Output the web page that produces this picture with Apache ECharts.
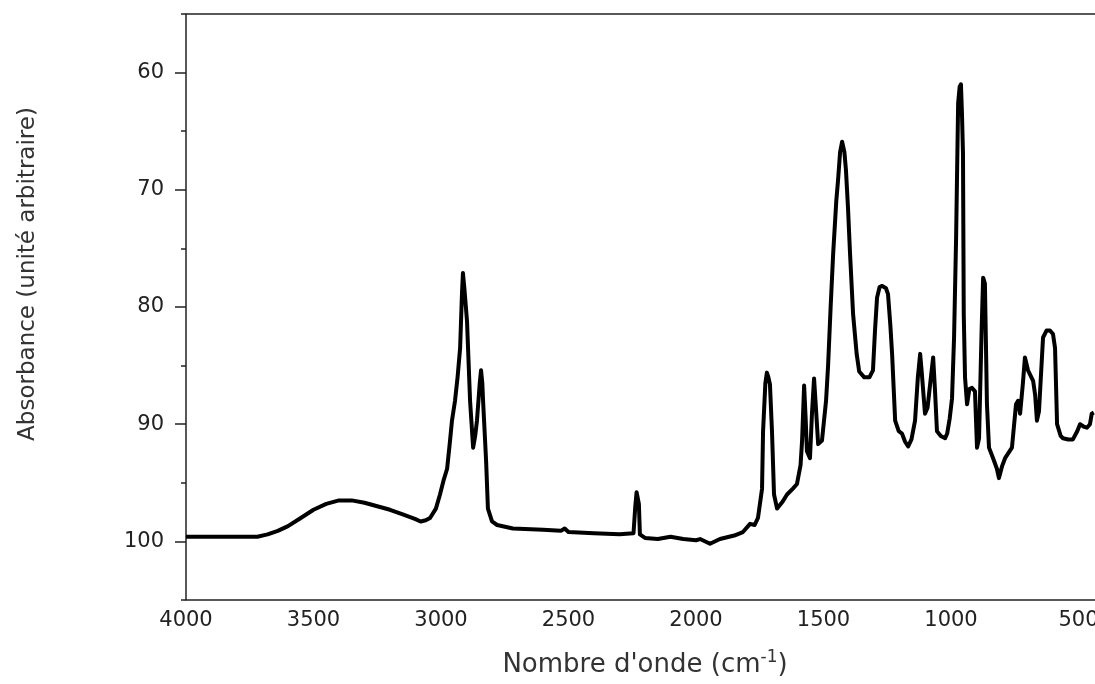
<!DOCTYPE html>
<html>
<head>
<meta charset="utf-8">
<script src="https://cdn.jsdelivr.net/npm/echarts@6/dist/echarts.min.js"></script>
<style>
  html, body { margin: 0; padding: 0; background: #fff; }
  #chart { width: 1095px; height: 684px; }
</style>
</head>
<body>
<div id="chart"></div>
<script>
// nombre d'onde (cm-1), du plus grand au plus petit
const wavenumbers = [
  4000, 3900, 3800, 3720, 3680, 3640, 3600, 3550, 3500, 3450, 3400, 3350, 3300, 3250, 3200, 3150,
  3100, 3080, 3060, 3043, 3020, 3004, 2990, 2976, 2965, 2957, 2945, 2935, 2925, 2918, 2914, 2908,
  2898, 2886, 2874, 2866, 2859, 2848, 2843, 2838, 2835, 2823, 2816, 2800, 2780, 2718, 2600, 2530,
  2515, 2500, 2400, 2300, 2245, 2238, 2233, 2229, 2224, 2220, 2200, 2150, 2100, 2050, 2000, 1984,
  1945, 1906, 1850, 1816, 1788, 1770, 1757, 1741, 1737, 1728, 1722, 1716, 1710, 1702, 1694, 1682,
  1660, 1643, 1620, 1604, 1590, 1584, 1576, 1570, 1565, 1553, 1545, 1537, 1530, 1521, 1506, 1490,
  1482, 1472, 1462, 1450, 1443, 1435, 1427, 1418, 1412, 1404, 1396, 1384, 1370, 1360, 1340, 1320,
  1306, 1298, 1290, 1280, 1270, 1255, 1247, 1238, 1231, 1219, 1205, 1192, 1180, 1168, 1155, 1141,
  1130, 1121, 1115, 1102, 1092, 1086, 1070, 1063, 1055, 1040, 1023, 1015, 1005, 996, 988, 980,
  972, 966, 961, 957, 953, 950, 945, 937, 928, 918, 906, 898, 890, 880, 874, 867,
  859, 851, 835, 820, 812, 800, 788, 761, 745, 737, 729, 718, 710, 698, 678, 670,
  663, 655, 639, 625, 612, 600, 592, 584, 570, 561, 540, 522, 505, 494, 480, 467,
  455, 448, 440
];

// absorbance (unité arbitraire), axe inversé
const absorbance = [
  99.6, 99.6, 99.6, 99.6, 99.4, 99.1, 98.7, 98.0, 97.3, 96.8, 96.5, 96.5, 96.7, 97.0, 97.3, 97.7,
  98.1, 98.3, 98.2, 98.0, 97.2, 96.0, 94.8, 93.8, 91.5, 89.7, 88.0, 86.0, 83.5, 79.0, 77.1, 78.5,
  81.2, 88.0, 92.0, 91.0, 89.7, 86.5, 85.4, 86.5, 88.0, 93.2, 97.2, 98.3, 98.6, 98.9, 99.0, 99.1,
  98.9, 99.2, 99.3, 99.4, 99.3, 97.0, 95.8, 95.8, 96.8, 99.4, 99.7, 99.8, 99.6, 99.8, 99.9, 99.8,
  100.2, 99.8, 99.5, 99.2, 98.5, 98.6, 98.0, 95.5, 90.6, 86.5, 85.6, 86.0, 86.6, 90.6, 96.0, 97.2,
  96.6, 96.0, 95.5, 95.1, 93.5, 91.4, 86.7, 89.5, 92.3, 92.9, 89.0, 86.1, 88.5, 91.7, 91.4, 88.0,
  85.0, 80.0, 75.4, 71.0, 69.2, 66.8, 65.9, 66.8, 68.3, 71.5, 75.4, 80.6, 84.0, 85.5, 86.0, 86.0,
  85.4, 82.0, 79.2, 78.3, 78.2, 78.4, 78.9, 81.5, 84.0, 89.7, 90.6, 90.8, 91.5, 91.9, 91.3, 89.7,
  86.0, 84.0, 85.5, 89.1, 88.6, 87.4, 84.3, 87.0, 90.6, 91.0, 91.2, 90.8, 89.5, 87.8, 82.6, 74.1,
  62.6, 61.2, 61.0, 63.5, 66.9, 80.6, 86.0, 88.3, 87.0, 86.9, 87.2, 92.0, 91.2, 82.0, 77.5, 78.0,
  88.3, 92.0, 92.9, 93.8, 94.6, 93.6, 92.9, 92.0, 88.3, 88.0, 89.1, 86.5, 84.3, 85.4, 86.3, 87.5,
  89.7, 88.9, 82.6, 82.0, 82.0, 82.3, 83.5, 90.0, 91.0, 91.2, 91.3, 91.3, 90.6, 90.0, 90.2, 90.3,
  90.0, 89.1, 89.0
];

const xTickLabels = [4000, 3500, 3000, 2500, 2000, 1500, 1000, 500];
const yMajorTicks = [60, 70, 80, 90, 100];
const yMinorTicks = [55, 65, 75, 85, 95, 105];

const chart = echarts.init(document.getElementById('chart'));

const points = wavenumbers.map((w, i) => [w, absorbance[i]]);
const labelFont = { fontFamily: 'DejaVu Sans', fontSize: 21, color: '#222' };

const option = {
  animation: false,
  backgroundColor: '#fff',
  grid: {
    left: 186, right: -9, top: 14, bottom: 84,
    outerBoundsMode: 'none',
    containLabel: false,
    show: true, borderColor: '#222', borderWidth: 1.5
  },
  xAxis: {
    type: 'value',
    inverse: true,
    min: 400,
    max: 4000,
    axisLine: { show: false },
    axisTick: { show: false },
    splitLine: { show: false },
    axisLabel: { ...labelFont, margin: 10, customValues: xTickLabels, formatter: (v) => String(v) },
    name: "Nombre d'onde (cm{sup|-1})",
    nameLocation: 'middle',
    nameGap: 49,
    nameTextStyle: {
      fontFamily: 'DejaVu Sans', fontSize: 26, color: '#333',
      rich: { sup: { fontFamily: 'DejaVu Sans', fontSize: 17, color: '#333', padding: [0, 0, 15, 0] } }
    }
  },
  yAxis: [
    {
      type: 'value',
      inverse: true,
      min: 55,
      max: 105,
      axisLine: { show: false },
      axisTick: { show: true, length: 5, customValues: yMinorTicks, lineStyle: { color: '#222', width: 1.5 } },
      axisLabel: { show: false },
      splitLine: { show: false }
    },
    {
      type: 'value',
      inverse: true,
      min: 55,
      max: 105,
      position: 'left',
      axisLine: { show: false },
      axisTick: { show: true, length: 11, customValues: yMajorTicks, lineStyle: { color: '#222', width: 1.5 } },
      axisLabel: { ...labelFont, margin: 22, customValues: yMajorTicks },
      splitLine: { show: false },
      name: 'Absorbance (unité arbitraire)',
      nameLocation: 'middle',
      nameGap: 146,
      nameTextStyle: { fontFamily: 'DejaVu Sans', fontSize: 23, color: '#333', padding: [0, 0, 0, 66] }
    }
  ],
  series: [
    {
      type: 'line',
      data: points,
      showSymbol: false,
      yAxisIndex: 0,
      lineStyle: { color: '#000', width: 4, join: 'round' }
    }
  ]
};

chart.setOption(option);
</script>
</body>
</html>
